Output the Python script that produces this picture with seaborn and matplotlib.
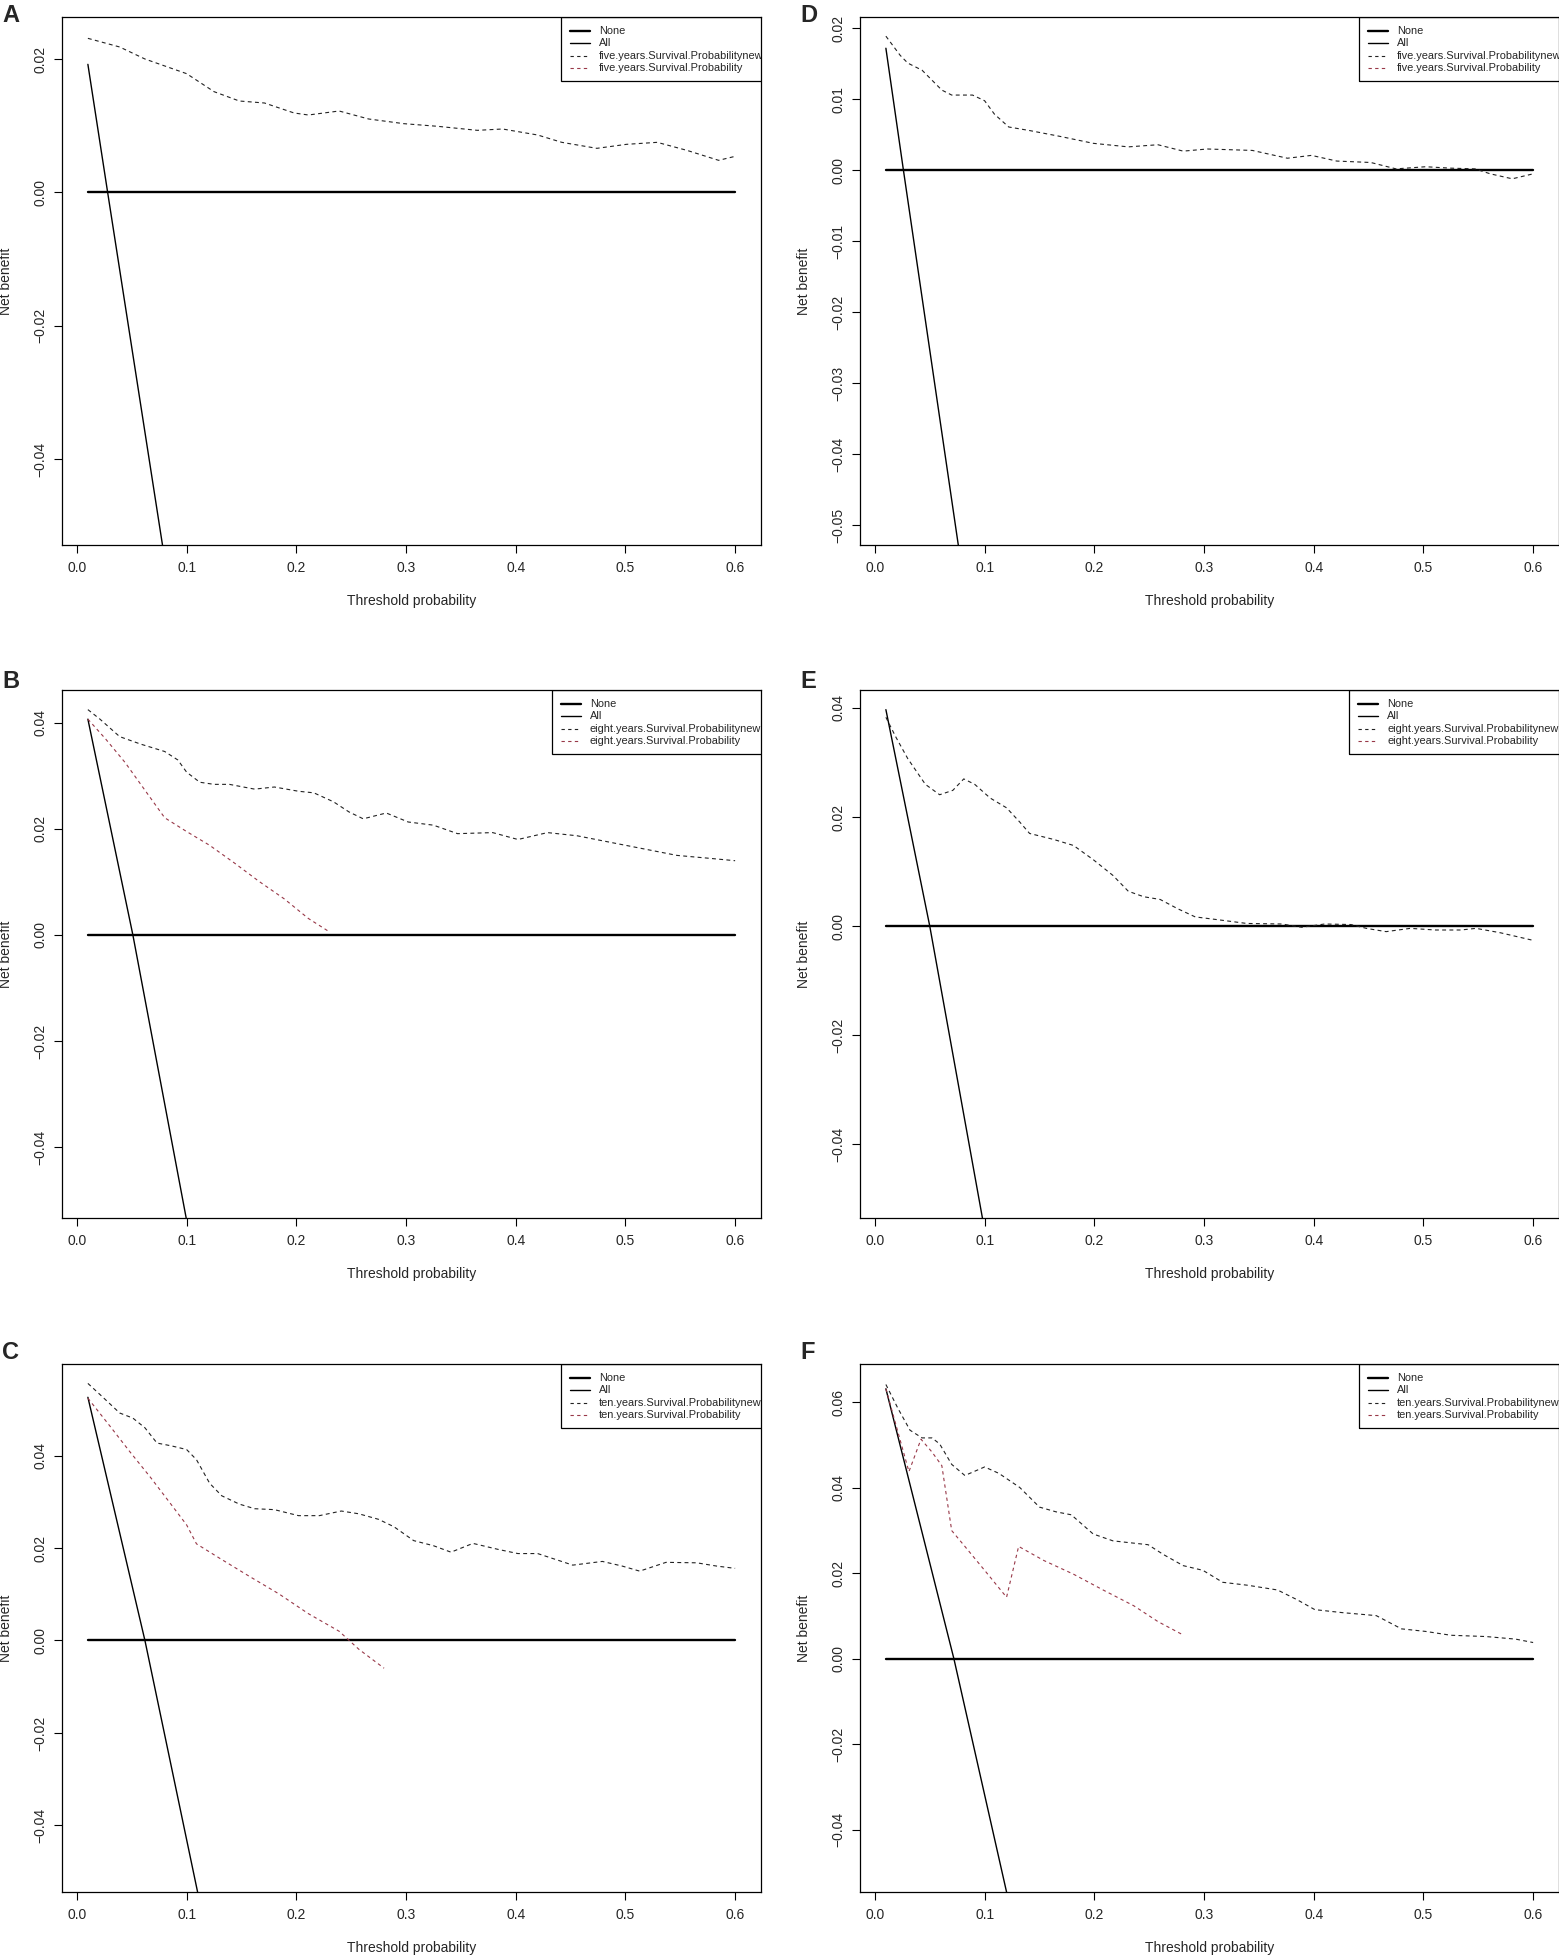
import numpy as np
import pandas as pd
import seaborn as sns
import matplotlib.pyplot as plt
from matplotlib.lines import Line2D
from matplotlib.patches import Rectangle

# Decision curves, values

# A: five years, cohort 1
a_new_x = [0.01, 0.039, 0.062, 0.10, 0.125, 0.148, 0.171, 0.198, 0.211, 0.239, 0.266, 0.298,
           0.329, 0.365, 0.388, 0.420, 0.442, 0.474, 0.501, 0.529, 0.556, 0.585, 0.60]
a_new_y = [0.0231, 0.0218, 0.0200, 0.0178, 0.0151, 0.0137, 0.0134, 0.0119, 0.0116, 0.0122, 0.0110, 0.0103,
           0.0099, 0.0093, 0.0095, 0.0086, 0.0075, 0.0066, 0.0072, 0.0075, 0.0063, 0.0048, 0.0054]
a_all_x = [0.01, 0.028, 0.078]
a_all_y = [0.0192, 0.0, -0.0529]

# B: eight years, cohort 1
b_new_x = [0.01, 0.021, 0.039, 0.058, 0.080, 0.092, 0.10, 0.112, 0.125, 0.139, 0.162, 0.180, 0.202,
           0.216, 0.234, 0.248, 0.261, 0.282, 0.302, 0.325, 0.347, 0.379, 0.402, 0.429, 0.456, 0.483,
           0.515, 0.547, 0.574, 0.60]
b_new_y = [0.0425, 0.0407, 0.0374, 0.0360, 0.0346, 0.0330, 0.0307, 0.0288, 0.0284, 0.0284, 0.0275, 0.0279, 0.0271,
           0.0268, 0.0251, 0.0232, 0.0219, 0.0230, 0.0213, 0.0207, 0.0191, 0.0193, 0.0180, 0.0193, 0.0187, 0.0176,
           0.0163, 0.0150, 0.0145, 0.0140]
b_old_x = [0.01, 0.026, 0.044, 0.062, 0.080, 0.10, 0.121, 0.144, 0.166, 0.189, 0.211, 0.230]
b_old_y = [0.0407, 0.0370, 0.0325, 0.0273, 0.0221, 0.0195, 0.0169, 0.0135, 0.0101, 0.0068, 0.0031, 0.0006]
b_all_x = [0.01, 0.051, 0.0996]
b_all_y = [0.0407, 0.0, -0.0534]

# C: ten years, cohort 1
c_new_x = [0.01, 0.021, 0.039, 0.051, 0.062, 0.073, 0.086, 0.10, 0.109, 0.121, 0.132, 0.148, 0.162,
           0.180, 0.202, 0.221, 0.241, 0.257, 0.275, 0.289, 0.307, 0.325, 0.341, 0.361, 0.384, 0.402,
           0.420, 0.438, 0.452, 0.479, 0.497, 0.513, 0.537, 0.565, 0.583, 0.60]
c_new_y = [0.0556, 0.0532, 0.0492, 0.0481, 0.0460, 0.0427, 0.0421, 0.0413, 0.0391, 0.0340, 0.0313, 0.0295, 0.0285,
           0.0283, 0.0270, 0.0270, 0.0280, 0.0274, 0.0262, 0.0246, 0.0216, 0.0205, 0.0191, 0.0210, 0.0197, 0.0188,
           0.0188, 0.0174, 0.0163, 0.0171, 0.0161, 0.0150, 0.0169, 0.0168, 0.0161, 0.0156]
c_old_x = [0.01, 0.030, 0.048, 0.067, 0.085, 0.10, 0.109, 0.130, 0.157, 0.184, 0.211, 0.239, 0.257, 0.280]
c_old_y = [0.0524, 0.0464, 0.0409, 0.0353, 0.0297, 0.0250, 0.0209, 0.0178, 0.0139, 0.0101, 0.0058, 0.0020,
           -0.0019, -0.0060]
c_all_x = [0.01, 0.062, 0.110]
c_all_y = [0.0526, 0.0, -0.0544]

# D: five years, cohort 2
d_new_x = [0.01, 0.023, 0.030, 0.043, 0.061, 0.070, 0.089, 0.10, 0.109, 0.122, 0.141, 0.168, 0.199,
           0.231, 0.258, 0.281, 0.303, 0.344, 0.376, 0.398, 0.421, 0.452, 0.475, 0.502, 0.525, 0.547,
           0.561, 0.581, 0.60]
d_new_y = [0.0189, 0.0162, 0.0151, 0.0141, 0.0113, 0.0106, 0.0106, 0.0098, 0.0079, 0.0061, 0.0056, 0.0048, 0.0038,
           0.0033, 0.0036, 0.0027, 0.0030, 0.0028, 0.0017, 0.0021, 0.0013, 0.0011, 0.0002, 0.0005, 0.0003, 0.0002,
           -0.0005, -0.0012, -0.0005]
d_all_x = [0.01, 0.026, 0.076]
d_all_y = [0.0172, 0.0, -0.0528]

# E: eight years, cohort 2
e_new_x = [0.01, 0.019, 0.030, 0.046, 0.059, 0.071, 0.081, 0.091, 0.105, 0.120, 0.132, 0.141, 0.163,
           0.181, 0.199, 0.217, 0.231, 0.245, 0.260, 0.276, 0.292, 0.312, 0.339, 0.371, 0.389, 0.410,
           0.434, 0.448, 0.466, 0.488, 0.511, 0.534, 0.548, 0.570, 0.60]
e_new_y = [0.0383, 0.0347, 0.0307, 0.0260, 0.0241, 0.0249, 0.0270, 0.0260, 0.0235, 0.0217, 0.0191, 0.0170, 0.0159,
           0.0148, 0.0122, 0.0093, 0.0064, 0.0054, 0.0049, 0.0032, 0.0017, 0.0012, 0.0005, 0.0004, -0.0002, 0.0004,
           0.0003, -0.0004, -0.0010, -0.0004, -0.0007, -0.0007, -0.0004, -0.0012, -0.0026]
e_all_x = [0.01, 0.050, 0.098]
e_all_y = [0.0397, 0.0, -0.0535]

# F: ten years, cohort 2
f_new_x = [0.01, 0.021, 0.032, 0.043, 0.052, 0.059, 0.070, 0.082, 0.10, 0.113, 0.132, 0.150, 0.165,
           0.179, 0.199, 0.217, 0.231, 0.249, 0.263, 0.281, 0.299, 0.317, 0.340, 0.367, 0.385, 0.401,
           0.426, 0.457, 0.480, 0.502, 0.525, 0.557, 0.584, 0.60]
f_new_y = [0.0642, 0.0586, 0.0535, 0.0517, 0.0517, 0.0503, 0.0455, 0.0429, 0.0449, 0.0434, 0.0401, 0.0355, 0.0344,
           0.0337, 0.0292, 0.0276, 0.0272, 0.0267, 0.0244, 0.0218, 0.0207, 0.0179, 0.0172, 0.0161, 0.0138, 0.0115,
           0.0108, 0.0101, 0.0070, 0.0064, 0.0055, 0.0052, 0.0046, 0.0038]
f_old_x = [0.01, 0.031, 0.042, 0.052, 0.061, 0.070, 0.082, 0.10, 0.120, 0.131, 0.154, 0.181, 0.208, 0.236,
           0.258, 0.280]
f_old_y = [0.0632, 0.0438, 0.0514, 0.0484, 0.0452, 0.0300, 0.0263, 0.0207, 0.0144, 0.0263, 0.0230, 0.0198,
           0.0161, 0.0124, 0.0087, 0.0057]
f_all_x = [0.01, 0.072, 0.120]
f_all_y = [0.0632, 0.0, -0.0546]

none_x = [0.01, 0.60]
none_y = [0.0, 0.0]

x_ticks = [0.0, 0.1, 0.2, 0.3, 0.4, 0.5, 0.6]

sns.set_style("ticks")
plt.rcParams['font.family'] = ['Liberation Sans', 'DejaVu Sans']

RED = "#983848"
DARK = "#222222"

W, H = 1559, 1957
fig = plt.figure(figsize=(W / 100, H / 100), dpi=100)

# axes boxes in pixels
col_left = [62, 860]
row_top = [17, 690, 1364]
ax_w, ax_h = 699, 528

panels = [
    dict(letter="A", col=0, row=0, years="five", new=(a_new_x, a_new_y), old=None, all=(a_all_x, a_all_y),
         ylim=(-0.0529, 0.0263), yticks=[-0.04, -0.02, 0.0, 0.02], box=0.714),
    dict(letter="B", col=0, row=1, years="eight", new=(b_new_x, b_new_y), old=(b_old_x, b_old_y), all=(b_all_x, b_all_y),
         ylim=(-0.0534, 0.0462), yticks=[-0.04, -0.02, 0.0, 0.02, 0.04], box=0.701),
    dict(letter="C", col=0, row=2, years="ten", new=(c_new_x, c_new_y), old=(c_old_x, c_old_y), all=(c_all_x, c_all_y),
         ylim=(-0.0544, 0.0598), yticks=[-0.04, -0.02, 0.0, 0.02, 0.04], box=0.714),
    dict(letter="D", col=1, row=0, years="five", new=(d_new_x, d_new_y), old=None, all=(d_all_x, d_all_y),
         ylim=(-0.0528, 0.0216), yticks=[-0.05, -0.04, -0.03, -0.02, -0.01, 0.0, 0.01, 0.02], box=0.714),
    dict(letter="E", col=1, row=1, years="eight", new=(e_new_x, e_new_y), old=None, all=(e_all_x, e_all_y),
         ylim=(-0.0535, 0.0433), yticks=[-0.04, -0.02, 0.0, 0.02, 0.04], box=0.700),
    dict(letter="F", col=1, row=2, years="ten", new=(f_new_x, f_new_y), old=(f_old_x, f_old_y), all=(f_all_x, f_all_y),
         ylim=(-0.0546, 0.0690), yticks=[-0.04, -0.02, 0.0, 0.02, 0.04, 0.06], box=0.714),
]

for p in panels:
    l = col_left[p["col"]]
    t = row_top[p["row"]]
    ax = fig.add_axes([l / W, 1 - (t + ax_h) / H, ax_w / W, ax_h / H])

    sns.lineplot(x=none_x, y=none_y, ax=ax, color="black", lw=1.7)
    sns.lineplot(x=p["all"][0], y=p["all"][1], ax=ax, color="black", lw=1.0)
    if p["old"] is not None:
        sns.lineplot(x=p["old"][0], y=p["old"][1], ax=ax, color=RED, lw=0.8, ls=(0, (3, 3)))
    sns.lineplot(x=p["new"][0], y=p["new"][1], ax=ax, color=DARK, lw=0.8, ls=(0, (3.5, 3)))

    ax.set_xlim(-0.0136, 0.6236)
    ax.set_ylim(*p["ylim"])
    ax.set_xticks(x_ticks)
    ax.set_xticklabels([f"{v:.1f}" for v in x_ticks])
    ax.set_yticks(p["yticks"])
    ax.set_yticklabels([f"{v:.2f}".replace("-", "\u2212") for v in p["yticks"]],
                       rotation=90, va="center")
    ax.tick_params(axis="both", direction="out", length=5.7, width=0.8, labelsize=10, color="black")
    ax.tick_params(axis="x", pad=6)
    ax.tick_params(axis="y", pad=5)
    for s in ax.spines.values():
        s.set_visible(True)
        s.set_linewidth(0.9)
        s.set_color("black")

    ax.set_xlabel("Threshold probability", fontsize=10)
    ax.set_ylabel("Net benefit", fontsize=10)
    ax.xaxis.set_label_coords(0.5, -0.093)
    ax.yaxis.set_label_coords(-0.070, 0.5)

    # legend box, overflowing the plot region as in the original
    b = p["box"]
    ax.add_patch(Rectangle((b, 0.879), 0.5, 0.121, transform=ax.transAxes, fill=False,
                           edgecolor="black", lw=0.9, clip_on=True, zorder=5))
    entries = [
        ("None", "black", 1.7, "-"),
        ("All", "black", 1.0, "-"),
        (f"{p['years']}.years.Survival.Probabilitynew", DARK, 0.8, (0, (3, 3))),
        (f"{p['years']}.years.Survival.Probability", RED, 0.8, (0, (3, 3))),
    ]
    for i, (lab, col, lw, ls) in enumerate(entries):
        yy = 0.974 - i * 0.0235
        ax.add_line(Line2D([b + 0.013, b + 0.041], [yy, yy], transform=ax.transAxes,
                           color=col, lw=lw, ls=ls, clip_on=True, zorder=6))
        ax.text(b + 0.054, yy, lab, transform=ax.transAxes, fontsize=7.9, va="center",
                ha="left", clip_on=True, zorder=6)

    lx = 2 if p["col"] == 0 else 800
    ly = [4, 670, 1341][p["row"]]
    fig.text(lx / W, 1 - ly / H, p["letter"], fontsize=17, fontweight="bold", ha="left", va="top")

fig.savefig("out.png", dpi=100)
